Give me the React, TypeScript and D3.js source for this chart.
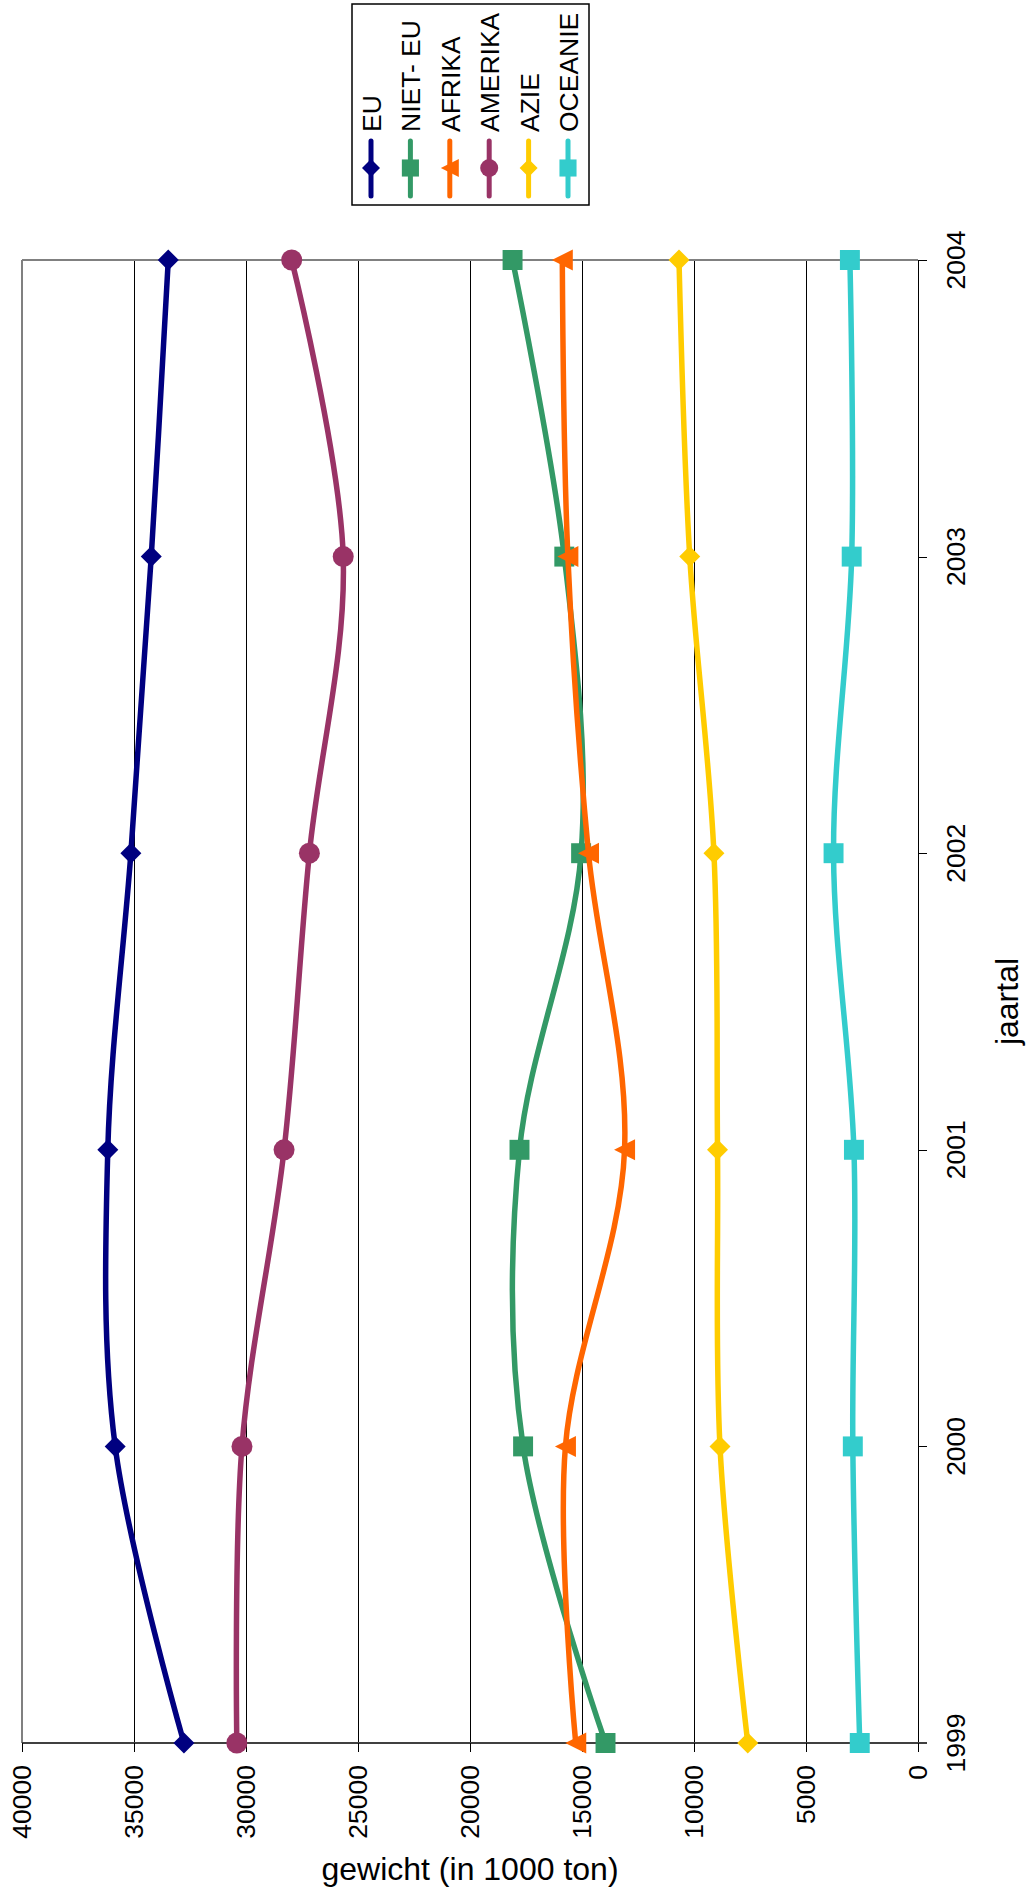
import React from "react";
import * as d3 from "d3";

const years = [1999, 2000, 2001, 2002, 2003, 2004];
const valueTicks = [0, 5000, 10000, 15000, 20000, 25000, 30000, 35000, 40000];

const EU = [32770, 35840, 36170, 35140, 34230, 33470];
const NIET_EU = [13950, 17630, 17790, 15040, 15790, 18100];
const AFRIKA = [15280, 15740, 13100, 14710, 15630, 15880];
const AMERIKA = [30410, 30180, 28300, 27170, 25660, 27960];
const AZIE = [7600, 8840, 8950, 9110, 10190, 10670];
const OCEANIE = [2600, 2910, 2860, 3770, 2960, 3040];

const seriesNames = ["EU", "NIET- EU", "AFRIKA", "AMERIKA", "AZIE", "OCEANIE"];
const seriesValues = [EU, NIET_EU, AFRIKA, AMERIKA, AZIE, OCEANIE];
const seriesColors = ["#000080", "#339966", "#FF6600", "#993366", "#FFCC00", "#33CCCC"];
const seriesMarkers = ["diamond", "square", "triangle", "circle", "diamond", "square"];

const W = 1029;
const H = 1896;
const FONT = "'Liberation Sans', Arial, Helvetica, sans-serif";

const left = 22;
const right = 918;
const top = 260;
const bottom = 1743;

function markerPath(kind: string, s: number): string {
  const h = s / 2;
  if (kind === "diamond") return `M0,${-h}L${h},0L0,${h}L${-h},0Z`;
  if (kind === "square") {
    const q = h * 0.95;
    return `M${-q},${-q}H${q}V${q}H${-q}Z`;
  }
  if (kind === "triangle") return `M${-h},0L${h},${-h}L${h},${h}Z`;
  return `M${-h},0A${h},${h} 0 1,0 ${h},0A${h},${h} 0 1,0 ${-h},0Z`;
}

export default function App() {
  const x = d3.scaleLinear().domain([40000, 0]).range([left, right]);
  const y = d3.scaleLinear().domain([1999, 2004]).range([bottom, top]);
  const px = (v: number) => Math.round(x(v)) + 0.5;
  const py = (v: number) => Math.round(y(v)) + 0.5;

  const line = d3
    .line<number>()
    .x((d) => x(d))
    .y((_, i) => y(years[i]))
    .curve(d3.curveCardinal.tension(0));

  const legendX0 = 371;
  const legendDX = 39.4;

  return (
    <svg
      width={W}
      height={H}
      style={{ position: "absolute", left: 0, top: 0, background: "#fff" }}
      fontFamily={FONT}
    >
      <rect x={0} y={0} width={W} height={H} fill="#fff" />
      {/* gridlines */}
      {valueTicks.slice(1, -1).map((v) => (
        <line key={"g" + v} x1={px(v)} x2={px(v)} y1={top} y2={bottom} stroke="#000" strokeWidth={1} shapeRendering="crispEdges" />
      ))}
      {/* plot border */}
      <line x1={left} x2={left} y1={top} y2={bottom} stroke="#808080" strokeWidth={2} shapeRendering="crispEdges" />
      <line x1={left} x2={right} y1={top} y2={top} stroke="#808080" strokeWidth={2} shapeRendering="crispEdges" />
      {/* category axis (right) */}
      <line x1={right + 0.5} x2={right + 0.5} y1={top} y2={bottom} stroke="#000" strokeWidth={1} shapeRendering="crispEdges" />
      {years.map((yr) => (
        <line key={"yt" + yr} x1={right} x2={right + 9} y1={py(yr)} y2={py(yr)} stroke="#000" strokeWidth={1} shapeRendering="crispEdges" />
      ))}
      {/* value axis (bottom) */}
      <line x1={left} x2={right + 9} y1={bottom} y2={bottom} stroke="#404040" strokeWidth={2} shapeRendering="crispEdges" />
      {valueTicks.map((v) => (
        <line key={"vt" + v} x1={px(v)} x2={px(v)} y1={bottom} y2={bottom + 9} stroke="#000" strokeWidth={1} shapeRendering="crispEdges" />
      ))}
      {/* value tick labels */}
      {valueTicks.map((v) => (
        <text
          key={"vl" + v}
          transform={`translate(${x(v)},${1765}) rotate(-90)`}
          textAnchor="end"
          dominantBaseline="central"
          fontSize={26.5}
          fill="#000"
        >
          {v}
        </text>
      ))}
      {/* year labels */}
      {years.map((yr) => (
        <text
          key={"yl" + yr}
          transform={`translate(${956},${y(yr)}) rotate(-90)`}
          textAnchor="middle"
          dominantBaseline="central"
          fontSize={26.5}
          fill="#000"
        >
          {yr}
        </text>
      ))}
      {/* axis titles */}
      <text
        transform={`translate(${1007},${(top + bottom) / 2}) rotate(-90)`}
        textAnchor="middle"
        dominantBaseline="central"
        fontSize={32}
        fill="#000"
      >
        jaartal
      </text>
      <text x={(left + right) / 2} y={1880} textAnchor="middle" fontSize={32} fill="#000">
        gewicht (in 1000 ton)
      </text>
      {/* series */}
      {seriesValues.map((vals, si) => (
        <g key={"s" + si}>
          <path d={line(vals) || ""} fill="none" stroke={seriesColors[si]} strokeWidth={5.5} strokeLinejoin="round" strokeLinecap="round" />
          {vals.map((v, i) => (
            <path
              key={i}
              transform={`translate(${x(v)},${y(years[i])})`}
              d={markerPath(seriesMarkers[si], 21)}
              fill={seriesColors[si]}
            />
          ))}
        </g>
      ))}
      {/* legend */}
      <rect x={352} y={4} width={237} height={201} fill="#fff" stroke="#000" strokeWidth={1.5} />
      {seriesNames.map((name, si) => {
        const lx = legendX0 + si * legendDX;
        return (
          <g key={"l" + si}>
            <line x1={lx} x2={lx} y1={141} y2={196} stroke={seriesColors[si]} strokeWidth={5} strokeLinecap="round" />
            <path transform={`translate(${lx},${168})`} d={markerPath(seriesMarkers[si], 18)} fill={seriesColors[si]} />
            <text
              transform={`translate(${lx + 1},${132}) rotate(-90)`}
              textAnchor="start"
              dominantBaseline="central"
              fontSize={26.5}
              fill="#000"
            >
              {name}
            </text>
          </g>
        );
      })}
    </svg>
  );
}
